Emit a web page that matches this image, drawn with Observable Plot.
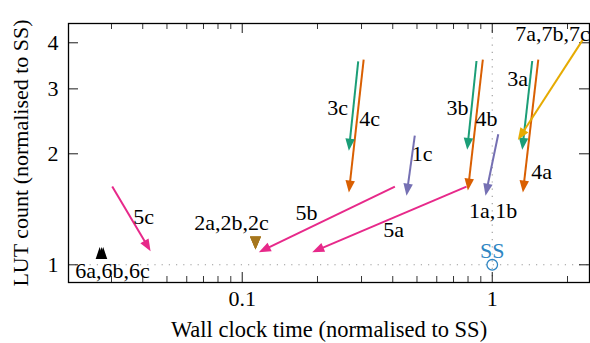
<!DOCTYPE html>
<html><head><meta charset="utf-8">
<script src="https://cdn.jsdelivr.net/npm/d3@7"></script>
<script src="https://cdn.jsdelivr.net/npm/@observablehq/plot@0.6"></script>
<style>
html,body{margin:0;padding:0;background:#fff;}
#chart svg, #chart svg text {font-family: "Liberation Serif", "DejaVu Serif", serif !important;}
</style>
</head><body><div id="chart"></div>
<script>
// ---- data ----
const xDomain = [0.02019, 2.449];
const yDomain = [0.8954, 4.512];
const xMajorTicks = [0.1, 1];
const xMinorTicks = [0.03, 0.04, 0.05, 0.06, 0.07, 0.08, 0.09, 0.2, 0.3, 0.4, 0.5, 0.6, 0.7, 0.8, 0.9, 2];
const yTicks = [1, 2, 3, 4];

const arrowNames  = ["3c", "4c", "1c", "3b", "4b", "3a", "4a", "1a,1b", "7a,7b,7c", "5a", "5b", "5c"];
const arrowSeries = [3, 4, 1, 3, 4, 3, 4, 1, 7, 5, 5, 5];
const arrowX1 = [0.291, 0.306, 0.490, 0.865, 0.917, 1.445, 1.528, 1.057, 2.304, 0.789, 0.408, 0.0302];
const arrowY1 = [3.56, 3.60, 2.24, 3.57, 3.60, 3.57, 3.60, 2.26, 4.08, 1.63, 1.63, 1.63];
const arrowX2 = [0.267, 0.267, 0.454, 0.794, 0.799, 1.318, 1.326, 0.940, 1.266, 0.1905, 0.1165, 0.0430];
const arrowY2 = [2.04, 1.57, 1.54, 2.05, 1.59, 2.05, 1.57, 1.54, 2.18, 1.082, 1.082, 1.089];

const pointNames  = ["2a", "2b", "2c", "6a", "6b", "6c"];
const pointSeries = [2, 2, 2, 6, 6, 6];
const pointX = [0.113, 0.113, 0.113, 0.0269, 0.0278, 0.0274];
const pointY = [1.146, 1.146, 1.146, 1.076, 1.076, 1.076];

const baselineName = "SS";
const baselineX = [1];
const baselineY = [1];

const labelTexts = ["7a,7b,7c", "3a", "3c", "4c", "3b", "4b", "1c", "4a", "1a,1b", "5b", "5a", "5c", "2a,2b,2c", "6a,6b,6c", "SS"];
const labelX = [1.742, 1.262, 0.2405, 0.323, 0.7266, 0.9489, 0.5248, 1.575, 1.007, 0.1808, 0.4029, 0.04029, 0.0906, 0.03029, 1.0];
const labelY = [4.24, 3.20, 2.671, 2.493, 2.671, 2.493, 1.992, 1.783, 1.404, 1.380, 1.244, 1.346, 1.297, 0.965, 1.093];

const xTitle = "Wall clock time (normalised to SS)";
const yTitle = "LUT count (normalised to SS)";

// ---- style ----
const seriesColor = {1: "#7570b3", 2: "#a6761d", 3: "#1b9e77", 4: "#d95f02", 5: "#e7298a", 6: "#000000", 7: "#e6ab02"};
const ssColor = "#2f86c3";
const W = 590, H = 343;
const mL = 68, mR = 1, mT = 23, mB = 61;
const innerW = W - mL - mR, innerH = H - mT - mB;
const font = "Liberation Serif, DejaVu Serif, serif";
const fs = 22;

const sx = Plot.scale({x: {type: "log", domain: xDomain, range: [mL, W - mR]}});
const sy = Plot.scale({y: {type: "log", domain: yDomain, range: [H - mB, mT]}});
const arrowIdx = arrowNames.map((_, i) => i);
const arrowAngle = arrowIdx.map(i => {
  const dx = sx.apply(arrowX2[i]) - sx.apply(arrowX1[i]);
  const dy = sy.apply(arrowY2[i]) - sy.apply(arrowY1[i]);
  return Math.atan2(dx, -dy) * 180 / Math.PI;
});

const headSymbol = {draw(ctx) { const L = 12, w = 9.5; ctx.moveTo(0, 0); ctx.lineTo(w / 2, L); ctx.lineTo(-w / 2, L); ctx.closePath(); }};
const triDown = {draw(ctx) { const h = 13, w = 11; ctx.moveTo(0, h / 2); ctx.lineTo(w / 2, -h / 2); ctx.lineTo(-w / 2, -h / 2); ctx.closePath(); }};
const triUp = {draw(ctx) { const h = 12, w = 8; ctx.moveTo(0, -h / 2); ctx.lineTo(w / 2, h / 2); ctx.lineTo(-w / 2, h / 2); ctx.closePath(); }};
const pointIdx = pointNames.map((_, i) => i);
const labelIdx = labelTexts.map((_, i) => i);

const chart = Plot.plot({
  width: W, height: H,
  marginLeft: mL, marginRight: mR, marginTop: mT, marginBottom: mB,
  x: {type: "log", domain: xDomain},
  y: {type: "log", domain: yDomain},
  color: {type: "identity"},
  style: {fontFamily: font, fontSize: fs + "px", background: "#fff", color: "#000"},
  marks: [
    Plot.ruleY([1], {stroke: "#9a9a9a", strokeDasharray: "1.2,6", strokeWidth: 1.1}),
    Plot.ruleX([1], {stroke: "#9a9a9a", strokeDasharray: "1.2,6", strokeWidth: 1.1}),
    // ticks (inward)
    Plot.tickX(xMajorTicks, {insetTop: innerH - 10, stroke: "#000", strokeWidth: 0.9}),
    Plot.tickX(xMajorTicks, {insetBottom: innerH - 10, stroke: "#000", strokeWidth: 0.9}),
    Plot.tickX(xMinorTicks, {insetTop: innerH - 6, stroke: "#000", strokeWidth: 0.8}),
    Plot.tickX(xMinorTicks, {insetBottom: innerH - 6, stroke: "#000", strokeWidth: 0.8}),
    Plot.tickY(yTicks, {insetRight: innerW - 10, stroke: "#000", strokeWidth: 0.9}),
    Plot.tickY(yTicks, {insetLeft: innerW - 10, stroke: "#000", strokeWidth: 0.9}),
    Plot.axisX(xMajorTicks, {tickSize: 0, tickPadding: 8, tickFormat: d => String(d), label: null, fontSize: fs, fontFamily: font}),
    Plot.axisY(yTicks, {tickSize: 0, tickPadding: 10, tickFormat: d => String(d), label: null, fontSize: fs, fontFamily: font}),
    Plot.frame({stroke: "#000", strokeWidth: 1.3}),
    // arrows
    Plot.arrow(arrowIdx, {
      x1: i => arrowX1[i], y1: i => arrowY1[i], x2: i => arrowX2[i], y2: i => arrowY2[i],
      stroke: i => seriesColor[arrowSeries[i]], strokeWidth: 2, headLength: 0, insetEnd: 6, strokeLinecap: "butt"
    }),
    Plot.dot(arrowIdx, {
      x: i => arrowX2[i], y: i => arrowY2[i], symbol: headSymbol, rotate: i => arrowAngle[i],
      fill: i => seriesColor[arrowSeries[i]], stroke: "none"
    }),
    // points
    Plot.dot(pointIdx, {
      x: i => pointX[i], y: i => pointY[i], symbol: i => (pointSeries[i] === 2 ? "tri2" : "tri6"),
      fill: i => seriesColor[pointSeries[i]], stroke: "none"
    }),
    Plot.dot(baselineX.map((_, i) => i), {x: i => baselineX[i], y: i => baselineY[i], r: 5.3, stroke: ssColor, strokeWidth: 1.3, fill: "none", symbol: "circle"}),
    // labels
    Plot.text(labelIdx, {
      x: i => labelX[i], y: i => labelY[i], text: i => labelTexts[i],
      fill: i => (labelTexts[i] === baselineName ? ssColor : "#000"), fontSize: fs, fontFamily: font, textAnchor: "middle", lineAnchor: "middle"
    }),
    Plot.text([xTitle], {frameAnchor: "bottom", dy: 47, fontSize: 22.5, fontFamily: font, textAnchor: "middle", lineAnchor: "middle"}),
    Plot.text([yTitle], {frameAnchor: "left", dx: -48, rotate: -90, fontSize: fs, fontFamily: font, textAnchor: "middle", lineAnchor: "middle"})
  ],
  symbol: {type: "ordinal", domain: ["tri2", "tri6"], range: [triDown, triUp]}
});
document.getElementById("chart").appendChild(chart);
</script>
</body></html>
